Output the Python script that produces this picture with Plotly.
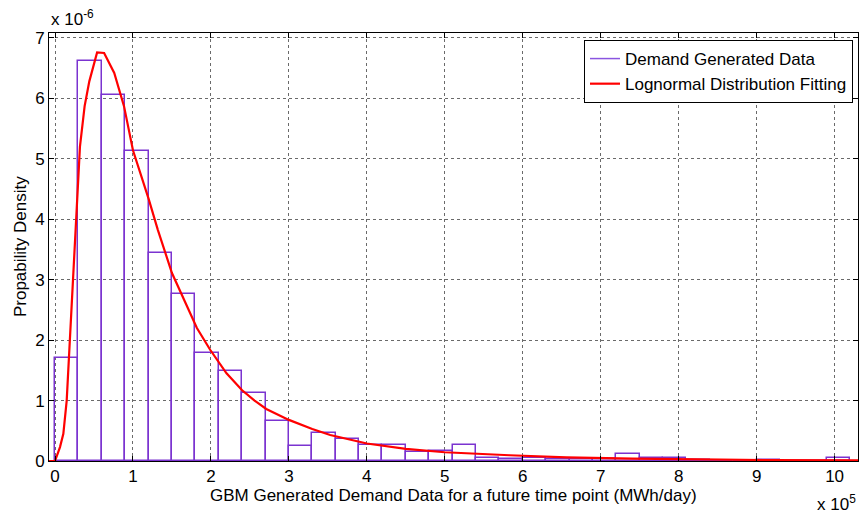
import plotly.graph_objects as go

# Histogram of GBM-generated demand (bin width 30,000 MWh/day), density values
bin_width = 30000
bin_left_edges = [i * bin_width for i in range(34)]
density = [
    1.70e-6, 6.61e-6, 6.05e-6, 5.13e-6, 3.44e-6, 2.77e-6, 1.79e-6, 1.49e-6,
    1.12e-6, 0.67e-6, 0.25e-6, 0.46e-6, 0.37e-6, 0.26e-6, 0.26e-6, 0.15e-6,
    0.16e-6, 0.26e-6, 0.055e-6, 0.04e-6, 0.05e-6, 0.04e-6, 0.03e-6, 0.04e-6,
    0.11e-6, 0.05e-6, 0.05e-6, 0.01e-6, 0.0, 0.0, 0.01e-6, 0.0, 0.0, 0.05e-6,
]

# Fitted lognormal pdf, sampled points
fit_x = [
    -8000, 0, 6400, 10700, 15000, 18000, 21000, 30000, 32000, 38000, 44000,
    54000, 63000, 76000, 88500, 100000, 120000, 132000, 150000, 182000,
    199000, 220000, 240000, 256000, 271000, 300000, 330000, 353000,
    400000, 450000, 500000, 583000, 656000, 741000, 800000, 844000, 920000,
    1030000,
]
fit_pdf = [
    0.0, 0.0, 0.23e-6, 0.45e-6, 1.00e-6, 1.72e-6, 2.55e-6, 4.65e-6, 5.20e-6,
    5.87e-6, 6.28e-6, 6.76e-6, 6.75e-6, 6.42e-6, 5.87e-6, 5.14e-6, 4.34e-6,
    3.82e-6, 3.11e-6, 2.20e-6, 1.84e-6, 1.45e-6, 1.17e-6, 1.00e-6, 0.86e-6,
    0.68e-6, 0.53e-6, 0.43e-6, 0.29e-6, 0.20e-6, 0.145e-6, 0.095e-6,
    0.06e-6, 0.04e-6, 0.03e-6, 0.025e-6, 0.015e-6, 0.01e-6,
]

x_tick_vals = [i * 100000 for i in range(11)]
x_tick_text = [str(i) for i in range(11)]
y_tick_vals = [i * 1e-6 for i in range(8)]
y_tick_text = [str(i) for i in range(8)]

FONT = "Liberation Sans, Arial, Helvetica, sans-serif"
PURPLE = "#7b33d0"
SIZE = 17

fig = go.Figure()
fig.add_trace(go.Bar(
    x=[e + bin_width / 2 for e in bin_left_edges],
    y=density,
    width=bin_width,
    marker=dict(color="rgba(0,0,0,0)", line=dict(color=PURPLE, width=1.5)),
    name="Demand Generated Data",
    legendgroup="hist",
    showlegend=False,
))
# Line-style legend key for the histogram outline
fig.add_trace(go.Scatter(
    x=[None], y=[None], mode="lines",
    line=dict(color="#8a55e0", width=1.5),
    name="Demand Generated Data",
    legendgroup="hist",
))
fig.add_trace(go.Scatter(
    x=fit_x, y=fit_pdf, mode="lines",
    line=dict(color="#ff0000", width=2.2),
    name="Lognormal Distribution Fitting",
))

axis_common = dict(
    showline=True, linecolor="black", linewidth=1, mirror="ticks",
    ticks="inside", ticklen=5, tickcolor="black",
    showgrid=True, gridcolor="#6a6a6a", griddash="dot", gridwidth=1,
    zeroline=False, tickfont=dict(family=FONT, size=SIZE, color="black"),
)

fig.update_xaxes(range=[-7700, 1030000], tickvals=x_tick_vals,
                 ticktext=x_tick_text, **axis_common)
fig.update_yaxes(range=[0, 7.08e-6], tickvals=y_tick_vals,
                 ticktext=y_tick_text, **axis_common)

fig.update_layout(
    width=864, height=515,
    margin=dict(l=49, r=6, t=33, b=54),
    paper_bgcolor="white", plot_bgcolor="white",
    font=dict(family=FONT, size=SIZE, color="black"),
    bargap=0,
    showlegend=True,
    legend=dict(
        x=0.9938, y=0.9836, xanchor="right", yanchor="top",
        bgcolor="white", bordercolor="black", borderwidth=1,
        font=dict(family=FONT, size=SIZE), tracegroupgap=0,
    ),
    annotations=[
        dict(text="GBM Generated Demand Data for a future time point (MWh/day)",
             xref="paper", yref="paper", x=0.5, y=-0.081,
             xanchor="center", yanchor="middle", showarrow=False,
             font=dict(family=FONT, size=SIZE)),
        dict(text="Propability Density", textangle=-90,
             xref="paper", yref="paper", x=-0.0358, y=0.5,
             xanchor="center", yanchor="middle", showarrow=False,
             font=dict(family=FONT, size=SIZE)),
        dict(text="x 10<sup>-6</sup>",
             xref="paper", yref="paper", x=0.0, y=1.035,
             xanchor="left", yanchor="middle", showarrow=False,
             font=dict(family=FONT, size=SIZE)),
        dict(text="x 10<sup>5</sup>",
             xref="paper", yref="paper", x=1.0, y=-0.097,
             xanchor="right", yanchor="middle", showarrow=False,
             font=dict(family=FONT, size=SIZE)),
    ],
)

fig.write_html("out.html")
